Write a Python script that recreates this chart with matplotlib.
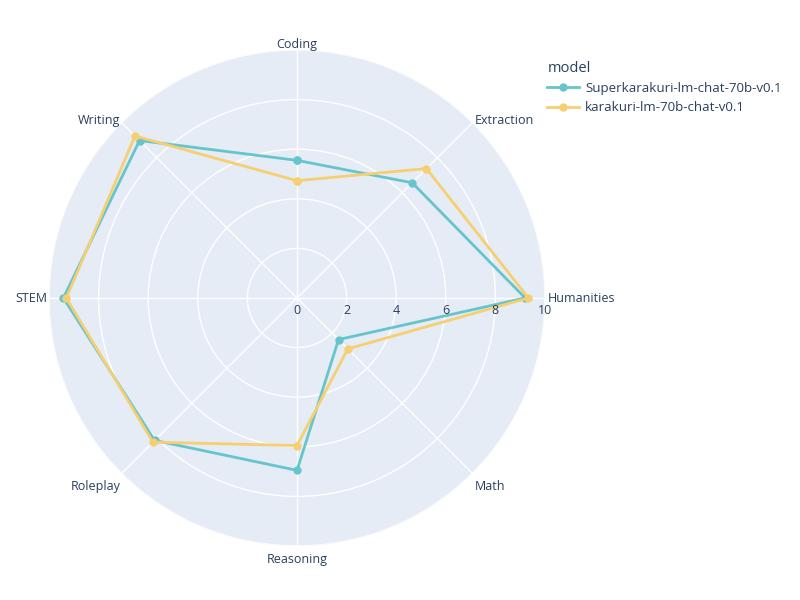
import numpy as np
import matplotlib
matplotlib.use("Agg")
import matplotlib.pyplot as plt
from matplotlib.lines import Line2D

categories = ["Coding", "Extraction", "Humanities", "Math", "Reasoning", "Roleplay", "STEM", "Writing"]
series_names = ["Superkarakuri-lm-chat-70b-v0.1", "karakuri-lm-70b-chat-v0.1"]
super_scores = [5.55, 6.57, 9.2, 2.37, 6.95, 8.12, 9.42, 8.98]
karakuri_scores = [4.73, 7.38, 9.33, 2.9, 5.95, 8.22, 9.3, 9.24]
radial_ticks = [0, 2, 4, 6, 8, 10]
colors = ["#66C5CC", "#F6CF71"]

plt.rcParams['font.family'] = ['Open Sans', 'DejaVu Sans']
text_color = "#2a3f5f"

fig = plt.figure(figsize=(8, 6), dpi=100)
ax = fig.add_axes([0.06125, 0.09, 0.62, 0.8267], projection='polar')
ax.set_facecolor("#E5ECF6")
ax.set_theta_offset(np.pi / 2)
ax.set_theta_direction(-1)

n = len(categories)
angles = np.arange(n) * 2 * np.pi / n
ang_closed = np.append(angles, angles[0])

handles = []
for name, vals, c in zip(series_names, [super_scores, karakuri_scores], colors):
    v = np.append(vals, vals[0])
    ax.plot(ang_closed, v, color=c, linewidth=2, marker='o', markersize=5, zorder=3, clip_on=False)
    handles.append(Line2D([0], [0], color=c, linewidth=2, marker='o', markersize=5))

ax.set_ylim(0, 10)
ax.set_yticks(radial_ticks[1:-1] + [10])
ax.set_yticklabels([])
ax.set_xticks(angles)
ax.set_xticklabels([])
ax.grid(True, color='white', linewidth=1)
ax.spines['polar'].set_visible(False)

px = 0.72  # points per pixel at 100 dpi
for ang, lab in zip(angles, categories):
    dx = np.sin(ang)
    dy = np.cos(ang)
    if abs(dx) < 0.1:
        ha, ox = 'center', 0
    elif dx > 0:
        ha, ox = 'left', 2.5
    else:
        ha, ox = 'right', -1.5
    if dy > 0.9:
        oy = 5
    elif dy > 0.1:
        oy = 1.8
    elif dy < -0.1:
        oy = -13.5
    else:
        oy = -1
    ax.annotate(lab, xy=(ang, 10), xytext=(ox * px, oy * px), textcoords='offset points',
                ha=ha, va='center', fontsize=9, color=text_color, annotation_clip=False)

for t in radial_ticks:
    ax.annotate(str(t), xy=(np.pi / 2, t), xytext=(0, -4.5), textcoords='offset points',
                ha='center', va='top', fontsize=9, color=text_color, annotation_clip=False)

fig.text(548 / 800, 1 - 69 / 600, "model", fontsize=10.5, color=text_color, va='center', ha='left')
fig.legend(handles, series_names, loc='upper left', bbox_to_anchor=(544 / 800, 1 - 79 / 600),
           frameon=False, fontsize=9.6, handlelength=2.4, handletextpad=0.5, labelspacing=0.5,
           labelcolor=text_color, borderaxespad=0, borderpad=0.2)

fig.savefig("out.png", dpi=100, facecolor='white')
